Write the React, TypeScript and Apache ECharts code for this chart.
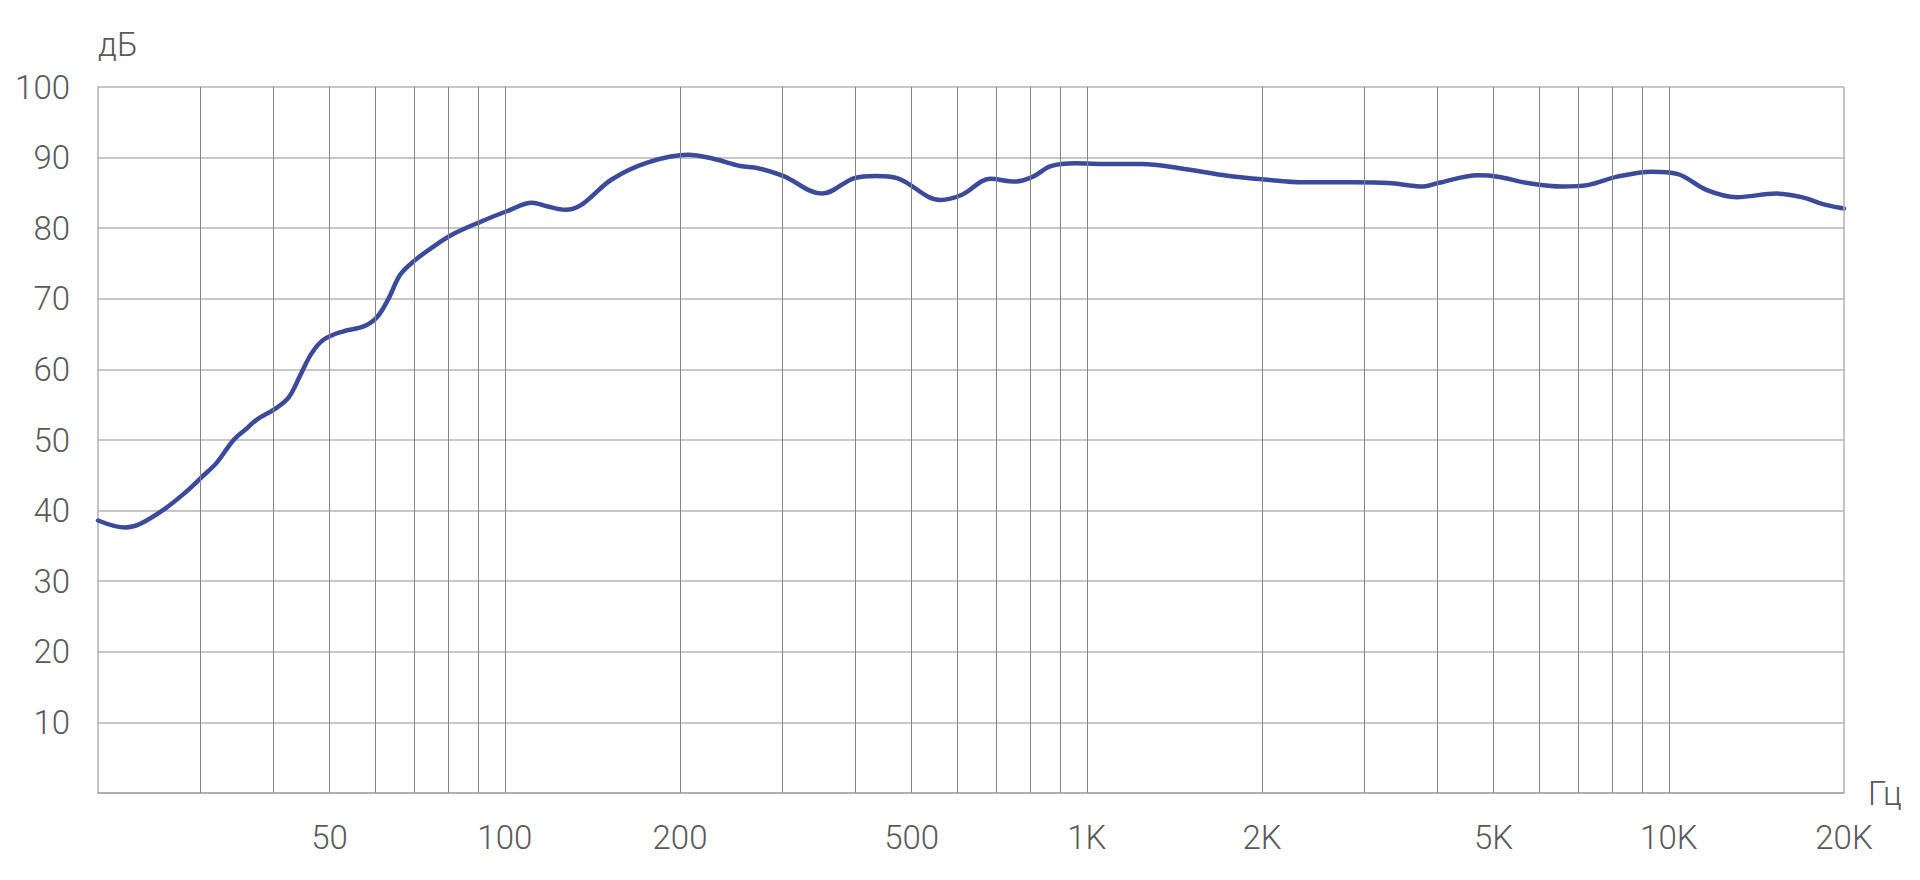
import React, { useEffect, useRef } from "react";
import * as echarts from "echarts";

// Frequency response samples (Hz, dB)
const freqHz = [
  20, 22.3, 23.6, 25.9, 28.1, 30.2, 32.0, 34.2, 36.1, 37.5, 40.1, 42.5, 44.6, 46.5, 48.8,
  52.8, 57.2, 60.3, 63.1, 66.1, 69.7, 75.4, 81.7, 90.8, 100.8, 111.4, 118.1, 127, 135.3,
  152.6, 175.7, 206.6, 226.6, 253.8, 272.4, 300.7, 351, 398.9, 434.2, 472.2, 559.8, 609.2,
  682.2, 753, 808.4, 867.4, 957.2, 1054, 1245, 1444, 1756, 2017, 2362, 2874, 3300, 3782,
  4014, 4700, 5087, 5724, 6572, 7250, 8158, 9360, 10334, 11628, 13084, 15312, 16906, 18624,
  20000,
];
const levelDb = [
  38.6, 37.6, 38.1, 40.1, 42.4, 44.8, 46.8, 50.0, 51.7, 52.9, 54.3, 56.0, 59.3, 62.2, 64.2,
  65.4, 66.1, 67.4, 70.0, 73.4, 75.3, 77.4, 79.2, 80.9, 82.4, 83.6, 83.1, 82.6, 83.3,
  86.9, 89.3, 90.4, 89.9, 88.8, 88.5, 87.4, 84.9, 87.1, 87.4, 87.1, 84.0, 84.7,
  87.0, 86.6, 87.3, 88.8, 89.2, 89.1, 89.1, 88.5, 87.4, 86.9, 86.5, 86.5, 86.4, 85.9,
  86.4, 87.5, 87.3, 86.4, 85.9, 86.1, 87.3, 88.0, 87.7, 85.4, 84.4, 84.9, 84.4, 83.3,
  82.8,
];

// Vertical grid lines (Hz)
const gridFreqs = [
  30, 40, 50, 60, 70, 80, 90, 100, 200, 300, 400, 500, 600, 700, 800, 900,
  1000, 2000, 3000, 4000, 5000, 6000, 7000, 8000, 9000, 10000, 20000,
];

// X tick labels
const xTickValues = [50, 100, 200, 500, 1000, 2000, 5000, 10000, 20000];
const xTickTexts = ["50", "100", "200", "500", "1K", "2K", "5K", "10K", "20K"];

const FONT = "Roboto";
const TEXT_COLOR = "#5a5a5a";
const CURVE_COLOR = "#3c4a9b";

export default function App() {
  const ref = useRef<HTMLDivElement>(null);

  useEffect(() => {
    const chart = echarts.init(ref.current!, null, { renderer: "svg" });
    const textStyle = {
      fontFamily: FONT,
      fontSize: 33,
      fontWeight: 300,
      color: TEXT_COLOR,
    };
    chart.setOption({
      animation: false,
      backgroundColor: "#ffffff",
      grid: { left: 98, right: 76, top: 87, bottom: 87, containLabel: false },
      xAxis: {
        type: "log",
        logBase: 10,
        min: 20,
        max: 20000,
        name: "Гц",
        nameLocation: "end",
        nameGap: 24,
        nameTextStyle: { ...textStyle, align: "left", verticalAlign: "middle" },
        axisLine: { show: true, lineStyle: { color: "#a8a8a8", width: 1.5 } },
        axisTick: { show: false },
        splitLine: { show: false },
        minorTick: { show: false },
        minorSplitLine: { show: false },
        axisLabel: {
          ...textStyle,
          customValues: xTickValues,
          margin: 28,
          formatter: (v: number) => {
            let best = 0;
            for (let i = 0; i < xTickValues.length; i++) {
              if (Math.abs(Math.log10(xTickValues[i]) - Math.log10(v)) <
                  Math.abs(Math.log10(xTickValues[best]) - Math.log10(v))) best = i;
            }
            return xTickTexts[best];
          },
        },
      },
      yAxis: {
        type: "value",
        min: 0,
        max: 100,
        interval: 10,
        name: "дБ",
        nameLocation: "end",
        nameGap: 43,
        nameTextStyle: { ...textStyle, align: "left", verticalAlign: "middle" },
        axisLine: { show: true, lineStyle: { color: "#b0b0b0", width: 1.5 } },
        axisTick: { show: false },
        splitLine: { show: true, lineStyle: { color: "#b4b4b4", width: 1.5 } },
        axisLabel: {
          ...textStyle,
          margin: 28,
          formatter: (v: number) => (v === 0 ? "" : String(v)),
        },
      },
      series: [
        {
          type: "line",
          data: [],
          z: 1,
          silent: true,
          markLine: {
            silent: true,
            symbol: ["none", "none"],
            label: { show: false },
            emphasis: { disabled: true },
            lineStyle: { color: "#858585", width: 1, type: "solid" },
            data: gridFreqs.map((f) => ({
              xAxis: f,
              lineStyle:
                f === 20000
                  ? { color: "#b0b0b0", width: 1.5, type: "solid" }
                  : { color: "#858585", width: 1, type: "solid" },
            })),
          },
        },
        {
          type: "line",
          z: 3,
          data: freqHz.map((f, i) => [f, levelDb[i]]),
          showSymbol: false,
          smooth: 0.35,
          lineStyle: { color: CURVE_COLOR, width: 4.5, cap: "round", join: "round" },
          itemStyle: { color: CURVE_COLOR },
        },
      ],
    });
    return () => chart.dispose();
  }, []);

  return (
    <div
      ref={ref}
      style={{
        position: "fixed",
        left: 0,
        top: 0,
        width: 1920,
        height: 880,
        background: "#fff",
      }}
    />
  );
}
